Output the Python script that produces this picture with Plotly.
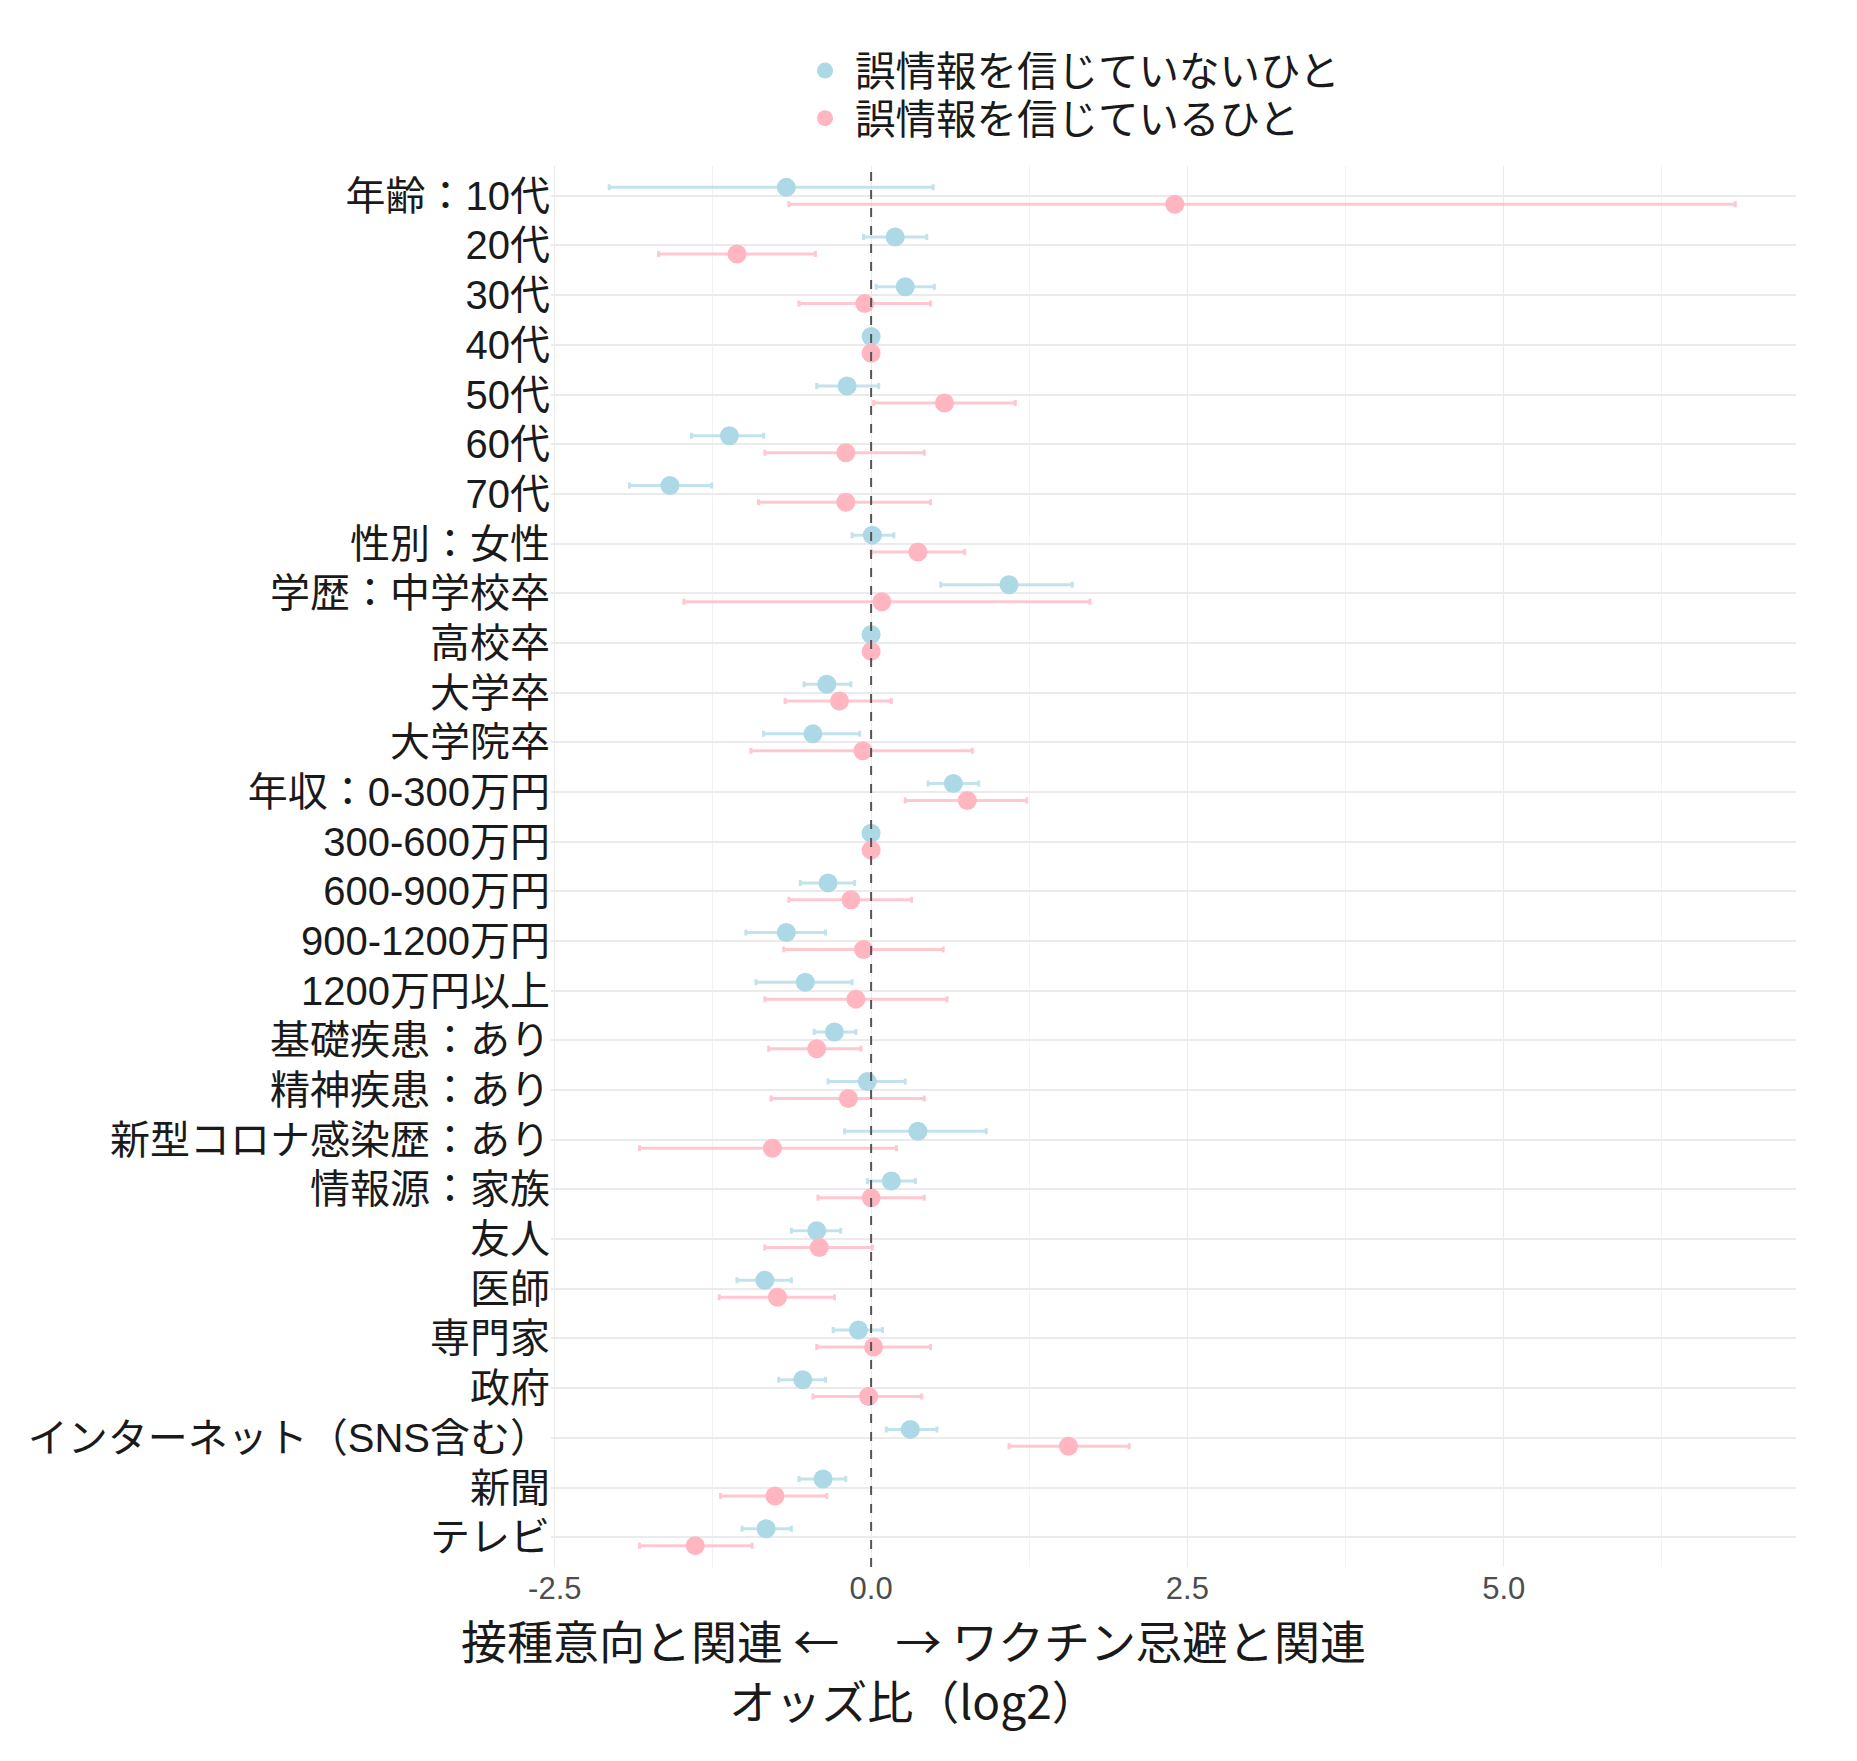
import plotly.graph_objects as go

# 項目ラベル（上から順）
labels = ["年齢：10代", "20代", "30代", "40代", "50代", "60代", "70代",
          "性別：女性", "学歴：中学校卒", "高校卒", "大学卒", "大学院卒",
          "年収：0-300万円", "300-600万円", "600-900万円", "900-1200万円", "1200万円以上",
          "基礎疾患：あり", "精神疾患：あり", "新型コロナ感染歴：あり",
          "情報源：家族", "友人", "医師", "専門家", "政府",
          "インターネット（SNS含む）", "新聞", "テレビ"]

# 誤情報を信じていないひと (log2 odds ratio, 95% CI)
no_est = [-0.67, 0.19, 0.27, 0.0, -0.19, -1.12, -1.59,
          0.01, 1.09, 0.0, -0.35, -0.46,
          0.65, 0.0, -0.34, -0.67, -0.52,
          -0.29, -0.03, 0.37,
          0.16, -0.43, -0.84, -0.10, -0.54,
          0.31, -0.38, -0.83]
no_lo = [-2.07, -0.06, 0.04, 0.0, -0.43, -1.42, -1.91,
         -0.15, 0.55, 0.0, -0.53, -0.85,
         0.45, 0.0, -0.56, -0.99, -0.91,
         -0.45, -0.34, -0.21,
         -0.03, -0.63, -1.06, -0.30, -0.73,
         0.12, -0.57, -1.02]
no_hi = [0.49, 0.44, 0.50, 0.0, 0.06, -0.85, -1.26,
         0.18, 1.59, 0.0, -0.16, -0.09,
         0.85, 0.0, -0.13, -0.36, -0.15,
         -0.12, 0.27, 0.91,
         0.35, -0.24, -0.63, 0.09, -0.36,
         0.52, -0.20, -0.63]

# 誤情報を信じているひと
yes_est = [2.40, -1.06, -0.05, 0.0, 0.58, -0.20, -0.20,
           0.37, 0.085, 0.0, -0.25, -0.065,
           0.76, 0.0, -0.16, -0.06, -0.12,
           -0.43, -0.18, -0.78,
           0.00, -0.41, -0.74, 0.02, -0.02,
           1.56, -0.76, -1.39]
yes_lo = [-0.65, -1.68, -0.57, 0.0, 0.02, -0.84, -0.89,
          0.00, -1.48, 0.0, -0.68, -0.95,
          0.27, 0.0, -0.65, -0.69, -0.84,
          -0.81, -0.79, -1.83,
          -0.42, -0.84, -1.20, -0.43, -0.46,
          1.09, -1.19, -1.83]
yes_hi = [6.83, -0.44, 0.47, 0.0, 1.14, 0.42, 0.47,
          0.74, 1.73, 0.0, 0.16, 0.80,
          1.23, 0.0, 0.32, 0.57, 0.60,
          -0.08, 0.42, 0.20,
          0.42, 0.01, -0.29, 0.47, 0.40,
          2.04, -0.35, -0.94]

x_ticks = [-2.5, 0.0, 2.5, 5.0]
x_ticktext = ["-2.5", "0.0", "2.5", "5.0"]

# 欧文はLiberation Sans、和文はNoto Sans CJK JPにフォールバック
FONT = "Liberation Sans, Noto Sans CJK JP"
FONT_JP = "Noto Sans CJK JP"
dodge = 0.17
idx = list(range(len(labels)))

series = [
    ("誤情報を信じていないひと", no_est, no_lo, no_hi, -dodge,
     "#ADD8E6", "rgba(173,216,230,0.75)", "legend"),
    ("誤情報を信じているひと", yes_est, yes_lo, yes_hi, dodge,
     "#FFB6C1", "rgba(255,182,193,0.75)", "legend2"),
]

fig = go.Figure()
for name, est, lo, hi, off, col, ecol, leg in series:
    fig.add_trace(go.Scatter(
        x=est,
        y=[i + off for i in idx],
        mode="markers",
        name=name,
        legend=leg,
        marker=dict(color=col, size=19),
        error_x=dict(
            type="data", symmetric=False,
            array=[h - e for h, e in zip(hi, est)],
            arrayminus=[e - l for e, l in zip(est, lo)],
            color=ecol, thickness=3, width=3,
        ),
    ))

fig.add_vline(x=0, line=dict(color="#555555", width=2, dash="dash"), layer="above")

legend_style = dict(
    orientation="v", xanchor="left", yanchor="middle",
    font=dict(size=40.5, family=FONT, color="#1a1a1a"),
    itemsizing="trace", itemwidth=50, bgcolor="rgba(0,0,0,0)",
)

fig.update_layout(
    width=1857, height=1761,
    margin=dict(l=543, r=69, t=158, b=202, autoexpand=False),
    paper_bgcolor="white", plot_bgcolor="white",
    font=dict(family=FONT, color="#1a1a1a"),
    showlegend=True,
    legend=dict(x=0.196, y=1.068, **legend_style),
    legend2=dict(x=0.196, y=1.034, **legend_style),
    xaxis=dict(
        range=[-2.53, 7.31],
        tickvals=x_ticks, ticktext=x_ticktext,
        tickfont=dict(size=31, color="#4d4d4d", family=FONT),
        showgrid=True, gridcolor="#ebebeb", gridwidth=1,
        minor=dict(dtick=1.25, tick0=-2.5, showgrid=True, gridcolor="#f2f2f2", gridwidth=1),
        zeroline=False, showline=False, ticks="", automargin=False,
    ),
    yaxis=dict(
        range=[len(labels) - 0.4, -0.6],
        tickvals=idx, ticktext=labels,
        tickfont=dict(size=40, color="#1a1a1a", family=FONT),
        showgrid=True, gridcolor="#ebebeb", gridwidth=2,
        zeroline=False, showline=False, ticks="", automargin=False,
    ),
    annotations=[dict(
        text="接種意向と関連 ←　 → ワクチン忌避と関連<br>オッズ比（log2）",
        xref="paper", yref="paper",
        x=0.2908, y=-0.0728, xanchor="center", yanchor="middle",
        showarrow=False,
        font=dict(size=46, family=FONT_JP, color="#1a1a1a"),
    )],
)

fig.write_html("out.html")
